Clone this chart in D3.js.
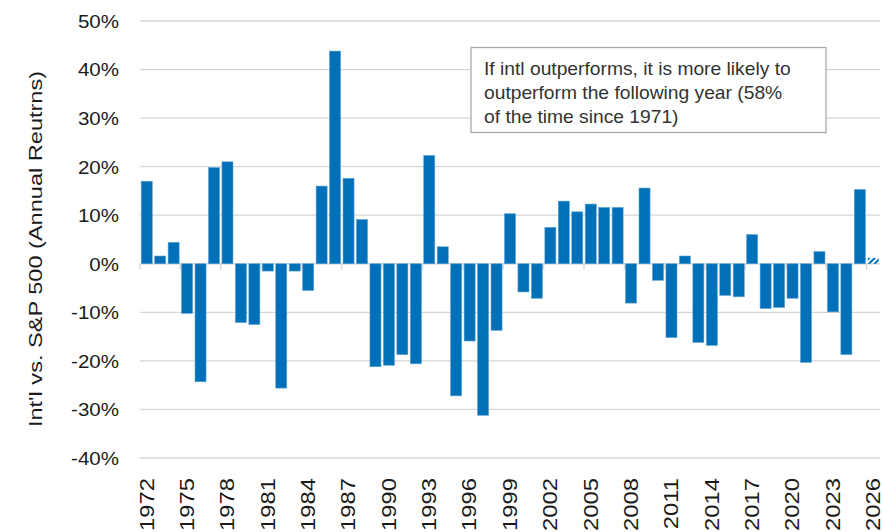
<!DOCTYPE html>
<html>
<head>
<meta charset="utf-8">
<script src="https://cdn.jsdelivr.net/npm/d3@7"></script>
<style>
  body { margin: 0; background: #fff; }
  text { font-family: "Liberation Sans", Arial, sans-serif; }
</style>
</head>
<body>
<svg id="chart" width="882" height="532"></svg>
<script>
// years shown on the x axis
var years = d3.range(1972, 2027);
// intl minus S&P 500 annual return, percent
var diffs = [17.0, 1.6, 4.4, -10.2, -24.3, 19.8, 21.0, -12.1, -12.5, -1.5,
             -25.6, -1.5, -5.5, 16.0, 43.8, 17.6, 9.1, -21.2, -20.9, -18.7,
             -20.6, 22.3, 3.5, -27.2, -15.9, -31.2, -13.7, 10.3, -5.8, -7.1,
             7.5, 12.9, 10.7, 12.3, 11.6, 11.6, -8.1, 15.6, -3.4, -15.2,
             1.6, -16.2, -16.8, -6.5, -6.8, 6.0, -9.2, -9.0, -7.1, -20.3,
             2.5, -9.9, -18.7, 15.3, 1.2];
var partialYear = 2026;
var yTicks = [-40, -30, -20, -10, 0, 10, 20, 30, 40, 50];
var noteLines = ["If intl outperforms, it is more likely to",
                 "outperform the following year (58%",
                 "of the time since 1971)"];

var svg = d3.select("#chart");
var plotLeft = 140, plotRight = 880, plotTop = 21, plotBottom = 458;

var x = d3.scaleBand().domain(years).range([plotLeft, plotRight]).paddingInner(0.18).paddingOuter(0.09);
var y = d3.scaleLinear().domain([-40, 50]).range([plotBottom, plotTop]);

// hatch pattern for the partial year
var defs = svg.append("defs");
defs.append("pattern")
  .attr("id", "hatch")
  .attr("patternUnits", "userSpaceOnUse")
  .attr("width", 4).attr("height", 4)
  .attr("patternTransform", "rotate(45)")
  .append("rect").attr("width", 2).attr("height", 4).attr("fill", "#0070b9");

// gridlines
svg.append("g").selectAll("line")
  .data(yTicks)
  .enter().append("line")
  .attr("x1", plotLeft).attr("x2", plotRight)
  .attr("y1", function(d) { return y(d); })
  .attr("y2", function(d) { return y(d); })
  .attr("stroke", "#d3d6da")
  .attr("stroke-width", 1.3);

// y labels
svg.append("g").selectAll("text")
  .data(yTicks)
  .enter().append("text")
  .attr("transform", function(d) { return "translate(119," + y(d) + ") scale(1.08,1)"; })
  .attr("dy", "0.36em")
  .attr("text-anchor", "end")
  .attr("font-size", 19)
  .attr("fill", "#1a1a1a")
  .text(function(d) { return d + "%"; });

// axis title
svg.append("text")
  .attr("transform", "translate(42,249) rotate(-90) scale(1.24,1)")
  .attr("text-anchor", "middle")
  .attr("font-size", 19)
  .attr("fill", "#1a1a1a")
  .text("Int'l vs. S&P 500 (Annual Reutrns)");

// zero axis ticks every 3 years
var step = x.step();
svg.append("g").selectAll("line")
  .data(years.filter(function(d, i) { return i % 3 === 0; }))
  .enter().append("line")
  .attr("x1", function(d) { return x(d) - step * 0.09; })
  .attr("x2", function(d) { return x(d) - step * 0.09; })
  .attr("y1", y(0)).attr("y2", y(0) + 6)
  .attr("stroke", "#d3d6da")
  .attr("stroke-width", 1.3);

// bars
svg.append("g").selectAll("rect")
  .data(years)
  .enter().append("rect")
  .attr("x", function(d) { return x(d); })
  .attr("width", x.bandwidth())
  .attr("y", function(d, i) { return y(Math.max(0, diffs[i])); })
  .attr("height", function(d, i) { return Math.abs(y(diffs[i]) - y(0)); })
  .attr("fill", function(d) { return d === partialYear ? "url(#hatch)" : "#0070b9"; })
  .attr("stroke", function(d) { return d === partialYear ? "none" : "#5a9fd0"; })
  .attr("stroke-width", 0.6);

// x labels every 3 years
svg.append("g").selectAll("text")
  .data(years.filter(function(d, i) { return i % 3 === 0; }))
  .enter().append("text")
  .attr("transform", function(d) {
    return "translate(" + (x(d) + x.bandwidth() / 2) + ",478) rotate(-90) scale(1.22,1)";
  })
  .attr("dy", "0.35em")
  .attr("text-anchor", "end")
  .attr("font-size", 19.5)
  .attr("fill", "#1a1a1a")
  .text(function(d) { return d; });

// annotation box
var note = svg.append("g");
note.append("rect")
  .attr("x", 471).attr("y", 47.5)
  .attr("width", 355).attr("height", 85)
  .attr("fill", "#fff")
  .attr("stroke", "#a9a9a9")
  .attr("stroke-width", 1.3);
note.selectAll("text")
  .data(noteLines)
  .enter().append("text")
  .attr("transform", function(d, i) { return "translate(484," + (75 + i * 24) + ") scale(1.1,1)"; })
  .attr("font-size", 17.5)
  .attr("fill", "#333")
  .text(function(d) { return d; });
</script>
</body>
</html>
